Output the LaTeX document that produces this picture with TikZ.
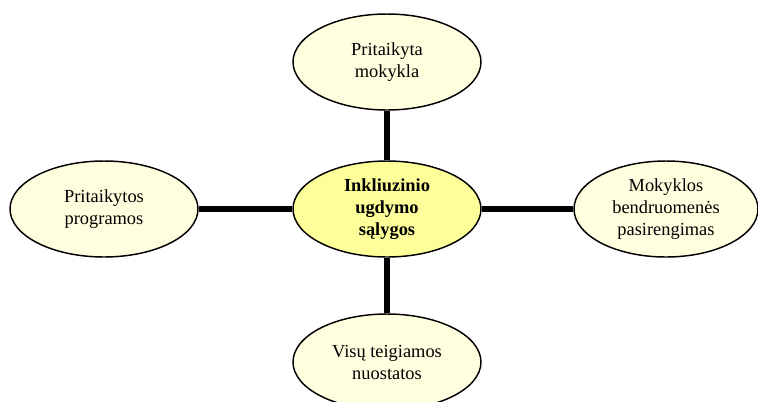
\documentclass[tikz,border=0pt]{standalone}
\usepackage{fontspec}
\setmainfont{Liberation Serif}
\usetikzlibrary{shapes,positioning}
\definecolor{pale}{RGB}{255,255,224}
\definecolor{core}{RGB}{255,255,153}
\tikzset{
  bubble/.style={ellipse, draw, line width=1.1pt, fill=pale, inner sep=0pt,
    minimum width=141pt, minimum height=72pt, align=center,
    font=\fontsize{13.8}{16.5}\selectfont},
  link/.style={line width=3.8pt}
}
\begin{document}
\begin{tikzpicture}[x=0.75pt,y=-0.75pt]
  \useasboundingbox (0,0) rectangle (758,401);
  \node[bubble, fill=core, font=\fontsize{13.8}{16.5}\selectfont\bfseries] (main) at (387,209) {Inkliuzinio\\ugdymo\\sąlygos};
  \node[bubble] (school) at (387,62) {Pritaikyta\\mokykla};
  \node[bubble] (prog) at (104,209) {Pritaikytos\\programos};
  \node[bubble, minimum width=138pt] (comm) at (666,209) {Mokyklos\\bendruomenės\\pasirengimas};
  \node[bubble] (att) at (387,362) {Visų teigiamos\\nuostatos};
  \draw[link] (school) -- (main) -- (att)
  (prog) -- (main) -- (comm);
\end{tikzpicture}
\end{document}
